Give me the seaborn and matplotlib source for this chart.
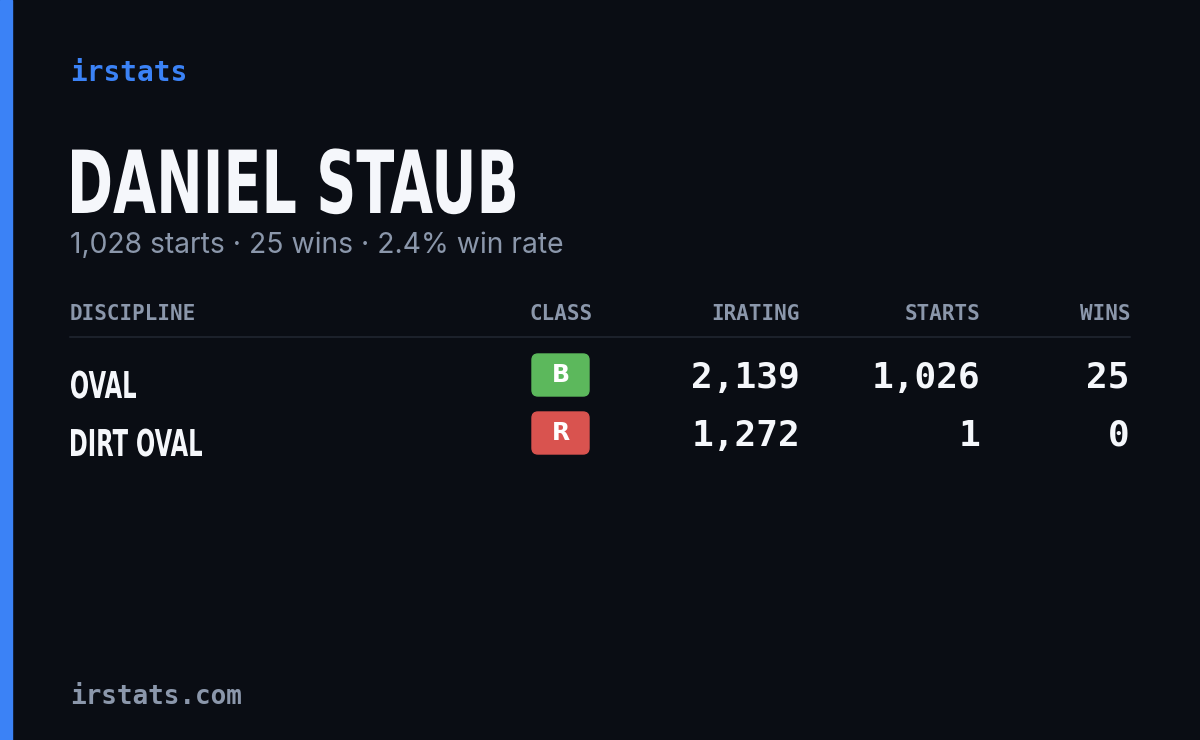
import matplotlib
matplotlib.use("Agg")
import matplotlib.pyplot as plt
import seaborn as sns
from matplotlib.patches import FancyBboxPatch, Rectangle, PathPatch
from matplotlib.textpath import TextPath
from matplotlib.font_manager import FontProperties
from matplotlib.transforms import Affine2D

sns.set_theme(style="white")
plt.rcParams['font.family'] = ['DejaVu Sans']

name = "DANIEL STAUB"
subtitle = "1,028 starts · 25 wins · 2.4% win rate"
headers = ["DISCIPLINE", "CLASS", "IRATING", "STARTS", "WINS"]
disciplines = ["OVAL", "DIRT OVAL"]
classes = ["B", "R"]
iratings = [2139, 1272]
starts = [1026, 1]
wins = [25, 0]
class_colors = {"B": "#5cb85c", "R": "#d9534f"}

BG = "#0a0d14"
fig = plt.figure(figsize=(12, 7.4), dpi=100, facecolor=BG)
ax = fig.add_axes([0, 0, 1, 1])
ax.set_facecolor(BG)
ax.set_xlim(0, 1200)
ax.set_ylim(740, 0)
ax.axis("off")

bold = FontProperties(family="DejaVu Sans", weight="bold")


def narrow_text(x, base, s, em, width, color):
    tp = TextPath((0, 0), s, size=em, prop=bold)
    ext = tp.get_extents()
    sx = width / ext.width
    tr = Affine2D().translate(-ext.x0, 0).scale(sx, -1).translate(x, base)
    ax.add_patch(PathPatch(tr.transform_path(tp), color=color, lw=0))
    return sx


ax.add_patch(Rectangle((0, 0), 12, 740, color="#3b82f6"))
mono = "DejaVu Sans Mono"
ax.text(70, 73, "irstats", color="#3b82f6", fontsize=20, family=mono, weight="bold", va="center")
narrow_text(72, 213, name, 87, 443, "#f5f7fb")
ax.text(70, 245, subtitle, color="#8b97ab", fontsize=20.4, family="Inter", va="center")

hx = [70, 593, 800, 980, 1130]
ha = ["left", "right", "right", "right", "right"]
for x, h, a in zip(hx, headers, ha):
    ax.text(x, 314, h, color="#8b97ab", fontsize=15, family=mono, weight="bold", ha=a, va="center")
ax.plot([70, 1130], [337, 337], color="#1c212b", lw=1.5)

rows_y = [380, 438]
label_w = {"OVAL": 65, "DIRT OVAL": 131}
for y, d, c, ir, s, w in zip(rows_y, disciplines, classes, iratings, starts, wins):
    narrow_text(71, y + 18, d, 37, label_w.get(d, 100), "#f5f7fb")
    ax.add_patch(FancyBboxPatch((532, y - 26), 57, 42, boxstyle="round,pad=0,rounding_size=6",
                                color=class_colors[c]))
    ax.text(560.5, y - 5, c, color="white", fontsize=17, family="DejaVu Sans", weight="bold",
            ha="center", va="center")
    for x, v in zip([800, 980, 1130], [ir, s, w]):
        ax.text(x, y - 2, f"{v:,}", color="#f5f7fb", fontsize=26, family=mono, weight="bold",
                ha="right", va="center")

ax.text(70, 697, "irstats.com", color="#8b97ab", fontsize=18.7, family=mono, weight="bold", va="center")

fig.savefig("out.png", dpi=100, facecolor=BG)
